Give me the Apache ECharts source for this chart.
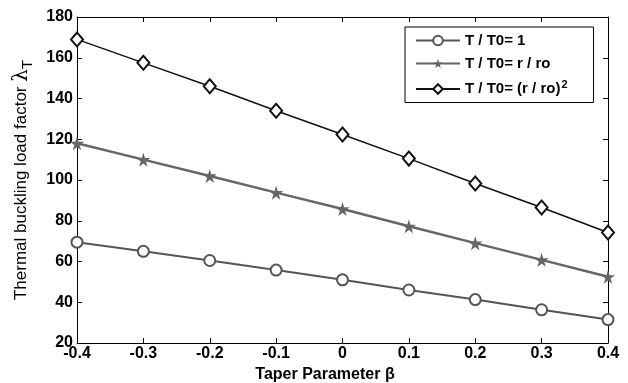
<!DOCTYPE html>
<html>
<head>
<meta charset="utf-8">
<script src="https://cdn.jsdelivr.net/npm/echarts@6/dist/echarts.min.js"></script>
<style>html,body{margin:0;padding:0;background:#fff}#c{width:628px;height:383px}</style>
</head>
<body>
<div id="c"></div>
<script>
const betas = [-0.4, -0.3, -0.2, -0.1, 0, 0.1, 0.2, 0.3, 0.4];
const seriesNames = ['T / T0= 1', 'T / T0= r / ro', 'T / T0= (r / ro)²'];
const circleVals = [69.5, 65, 60.5, 55.8, 51, 46, 41.3, 36.3, 31.5];
const starVals = [118, 110, 102, 93.8, 85.8, 77.3, 69, 60.8, 52.5];
const diamondVals = [169, 157.5, 146, 134, 122.3, 110.5, 98.3, 86.5, 74.2];
const yTicks = [20, 180, 20];   // min, max, interval
const xTicks = [-0.4, 0.4, 0.1];

const starPath = 'path://M50,0 L61,35 L98,35 L68,57 L79,91 L50,70 L21,91 L32,57 L2,35 L39,35 Z';
const FONT = '"Liberation Sans", Arial, sans-serif';

function pairs(vals) { return betas.map((b, i) => [b, vals[i]]); }

const chart = echarts.init(document.getElementById('c'), null, {renderer: 'canvas'});
const axisLine = {show: true, onZero: false, lineStyle: {color: '#000', width: 1}};
const tick = {inside: true, length: 5, lineStyle: {color: '#000'}};
chart.setOption({
  animation: false,
  backgroundColor: '#fff',
  grid: {left: 77, right: 20, top: 17, bottom: 40, containLabel: false, outerBoundsMode: 'none'},
  legend: {
    data: seriesNames,
    left: 405, top: 27, orient: 'vertical',
    padding: [6, 26, 6, 10],
    itemGap: 8,
    itemWidth: 44, itemHeight: 12,
    borderColor: '#000', borderWidth: 1, backgroundColor: '#fff',
    formatter: n => n.indexOf('²') >= 0 ? '{t|' + n.replace('²', '') + '}{sup|2}' : '{t|' + n + '}',
    textStyle: {fontFamily: FONT, fontWeight: 'bold', fontSize: 15, color: '#000',
      rich: {t: {fontFamily: FONT, fontWeight: 'bold', fontSize: 15, color: '#000'},
             sup: {fontFamily: FONT, fontWeight: 'bold', fontSize: 11, color: '#000', padding: [0, 0, 9, 1]}}}
  },
  xAxis: [{
    type: 'value', min: xTicks[0], max: xTicks[1], interval: xTicks[2],
    name: 'Taper Parameter β', nameLocation: 'middle', nameGap: 22,
    nameTextStyle: {fontFamily: FONT, fontWeight: 'bold', fontSize: 16, color: '#000', padding: [0, 35, 0, 0]},
    axisLine: axisLine, axisTick: tick,
    axisLabel: {fontFamily: FONT, fontWeight: 'bold', fontSize: 16, color: '#000', margin: 3,
      formatter: v => (Math.round(v * 10) / 10).toString()},
    splitLine: {show: false}
  }, {
    type: 'value', position: 'top', min: xTicks[0], max: xTicks[1], interval: xTicks[2],
    axisLine: axisLine, axisTick: tick,
    axisLabel: {show: false}, splitLine: {show: false}
  }],
  yAxis: [{
    type: 'value', min: yTicks[0], max: yTicks[1], interval: yTicks[2],
    name: 'Thermal buckling load factor {l|λ}{s|T}', nameLocation: 'middle', nameGap: 42,
    nameTextStyle: {fontFamily: FONT, fontSize: 17, color: '#000',
      rich: {l: {fontFamily: '"DejaVu Serif", serif', fontSize: 20, color: '#000'},
             s: {fontFamily: FONT, fontSize: 15, color: '#000', padding: [12, 0, 0, 0]}}},
    axisLine: axisLine, axisTick: tick,
    axisLabel: {fontFamily: FONT, fontWeight: 'bold', fontSize: 16, color: '#000', margin: 4},
    splitLine: {show: false}
  }, {
    type: 'value', position: 'right', min: yTicks[0], max: yTicks[1], interval: yTicks[2],
    axisLine: axisLine, axisTick: tick,
    axisLabel: {show: false}, splitLine: {show: false}
  }],
  series: [{
    name: seriesNames[0], type: 'line', data: pairs(circleVals),
    symbol: 'emptyCircle', symbolSize: 11,
    lineStyle: {color: '#555', width: 2}, itemStyle: {color: '#555', borderWidth: 1.5}
  }, {
    name: seriesNames[1], type: 'line', data: pairs(starVals),
    symbol: starPath, symbolSize: 14,
    lineStyle: {color: '#666', width: 2.5}, itemStyle: {color: '#666'}
  }, {
    name: seriesNames[2], type: 'line', data: pairs(diamondVals),
    symbol: 'emptyDiamond', symbolSize: [12, 14],
    lineStyle: {color: '#111', width: 1.5}, itemStyle: {color: '#111', borderWidth: 1.5}
  }]
});
</script>
</body>
</html>
